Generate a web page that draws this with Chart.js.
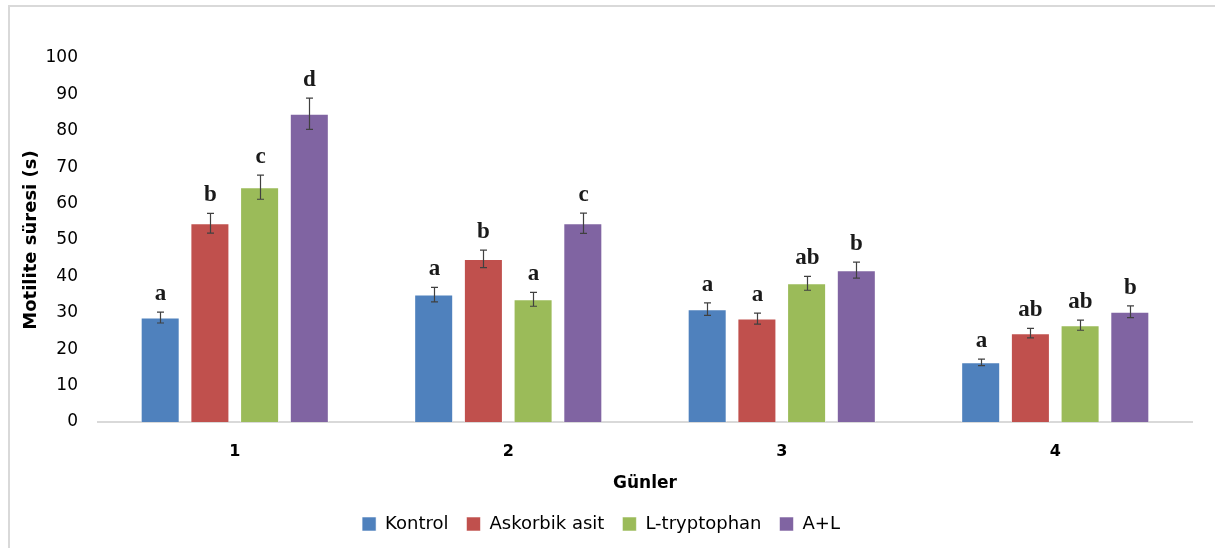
<!DOCTYPE html>
<html>
<head>
<meta charset="utf-8">
<script src="https://cdn.jsdelivr.net/npm/chart.js@4/dist/chart.umd.min.js"></script>
<style>
    html, body { margin: 0; padding: 0; background: #fff; }
    #wrap { position: relative; width: 1215px; height: 548px; }
    #frame {
        position: absolute; left: 8px; top: 5px; right: -10px; bottom: -10px;
        border-left: 2px solid #d9d9d9; border-top: 2px solid #d9d9d9;
    }
    #motiliteChart { position: absolute; left: 0; top: 0; }
</style>
</head>
<body>
<div id="wrap">
    <div id="frame"></div>
    <canvas id="motiliteChart" width="1215" height="548"></canvas>
</div>
<script>
// Days (x categories)
const days = ['1', '2', '3', '4'];

// Group names
const groupNames = ['Kontrol', 'Askorbik asit', 'L-tryptophan', 'A+L'];

// Mean motility time per group, one value per day
const kontrol = [28.7, 35.0, 31.0, 16.4];
const askorbik = [54.6, 44.8, 28.4, 24.4];
const tryptophan = [64.5, 33.7, 38.1, 26.6];
const aPlusL = [84.7, 54.6, 41.7, 30.3];

// Error (+/-) per group
const kontrolErr = [1.5, 2.0, 1.7, 0.9];
const askorbikErr = [2.7, 2.4, 1.5, 1.3];
const tryptophanErr = [3.3, 1.9, 1.9, 1.4];
const aPlusLErr = [4.3, 2.8, 2.2, 1.6];

// Significance letters
const kontrolSig = ['a', 'a', 'a', 'a'];
const askorbikSig = ['b', 'b', 'a', 'ab'];
const tryptophanSig = ['c', 'a', 'ab', 'ab'];
const aPlusLSig = ['d', 'c', 'b', 'b'];

const uiFont = '"Comic Sans MS", "DejaVu Sans", sans-serif';

function makeSet(label, data, err, sig, color) {
    return {
        label: label,
        data: data,
        err: err,
        sig: sig,
        backgroundColor: color,
        borderColor: 'rgba(255,255,255,0.55)',
        borderWidth: 1,
        barPercentage: 0.785,
        categoryPercentage: 0.727
    };
}

// error bars + letters above each bar
const errorBarPlugin = {
    id: 'errorBars',
    afterDatasetsDraw(chart) {
        const ctx = chart.ctx;
        const yScale = chart.scales.y;
        ctx.save();
        chart.data.datasets.forEach((ds, i) => {
            const meta = chart.getDatasetMeta(i);
            meta.data.forEach((bar, j) => {
                const x = Math.round(bar.x) + 0.5;
                const top = yScale.getPixelForValue(ds.data[j] + ds.err[j]);
                const bottom = yScale.getPixelForValue(ds.data[j] - ds.err[j]);
                ctx.strokeStyle = '#404040';
                ctx.lineWidth = 1.2;
                ctx.beginPath();
                ctx.moveTo(x, top);
                ctx.lineTo(x, bottom);
                ctx.moveTo(x - 3.5, top);
                ctx.lineTo(x + 3.5, top);
                ctx.moveTo(x - 3.5, bottom);
                ctx.lineTo(x + 3.5, bottom);
                ctx.stroke();

                ctx.fillStyle = '#1a1a1a';
                ctx.font = 'bold 23px "Liberation Serif", serif';
                ctx.textAlign = 'center';
                ctx.textBaseline = 'alphabetic';
                ctx.fillText(ds.sig[j], x, top - 12);
            });
        });
        ctx.restore();
    }
};

const chart = new Chart(document.getElementById('motiliteChart').getContext('2d'), {
    type: 'bar',
    data: {
        labels: days,
        datasets: [
            makeSet(groupNames[0], kontrol, kontrolErr, kontrolSig, '#4f81bd'),
            makeSet(groupNames[1], askorbik, askorbikErr, askorbikSig, '#c0504d'),
            makeSet(groupNames[2], tryptophan, tryptophanErr, tryptophanSig, '#9bbb59'),
            makeSet(groupNames[3], aPlusL, aPlusLErr, aPlusLSig, '#8064a2')
        ]
    },
    options: {
        responsive: false,
        animation: false,
        layout: { padding: { top: 58, right: 23, bottom: 5, left: 10 } },
        plugins: {
            legend: {
                position: 'bottom',
                labels: {
                    color: '#000',
                    font: { family: uiFont, size: 18 },
                    boxWidth: 14,
                    boxHeight: 14,
                    padding: 18
                }
            },
            tooltip: { enabled: false }
        },
        scales: {
            x: {
                grid: { display: false, drawTicks: false },
                border: { color: '#d9d9d9', width: 2 },
                ticks: { color: '#000', font: { family: uiFont, size: 16, weight: 'bold' }, padding: 20 },
                title: {
                    display: true,
                    text: 'Günler',
                    color: '#000',
                    font: { family: uiFont, size: 17, weight: 'bold' },
                    padding: { top: 0, bottom: 3 }
                },
                afterFit(scale) { scale.height = 75; }
            },
            y: {
                min: 0,
                max: 100,
                grid: { display: false, drawTicks: false },
                border: { display: false },
                ticks: { stepSize: 10, color: '#000', font: { family: uiFont, size: 17 }, padding: 20 },
                title: {
                    display: true,
                    text: 'Motilite süresi (s)',
                    color: '#000',
                    font: { family: uiFont, size: 18, weight: 'bold' },
                    padding: { top: 11, bottom: 0 }
                },
                afterFit(scale) { scale.width = 88; }
            }
        }
    },
    plugins: [errorBarPlugin]
});
</script>
</body>
</html>
